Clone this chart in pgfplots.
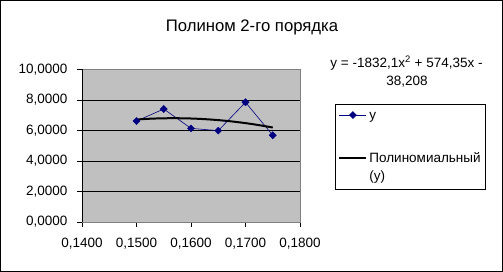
\documentclass[border=0pt]{standalone}
\usepackage{pgfplots}
\pgfplotsset{compat=1.18}
\usepackage{fontspec}
\setmainfont{Liberation Sans}
\definecolor{plotgray}{RGB}{192,192,192}
\definecolor{bordergray}{RGB}{128,128,128}
\definecolor{navyblue}{RGB}{0,0,128}
\pgfplotsset{
  legmark/.style={legend image code/.code={\draw[mark repeat=2,mark phase=2,##1] plot coordinates {(0pt,4.5pt) (13.5pt,4.5pt) (27pt,4.5pt)};}},
  legline/.style={legend image code/.code={\draw[##1] (0pt,22.5pt) -- (27pt,22.5pt);}},
}
\begin{document}
\begin{tikzpicture}
\fill[white] (0pt,0pt) rectangle (503pt,272pt);
\draw[black,line width=1pt] (0.5pt,0.5pt) rectangle (502.5pt,271.5pt);
\node[font=\fontsize{16.7}{20}\selectfont] at (252pt,245pt) {Полином 2-го порядка};
\node[font=\fontsize{13.5}{16}\selectfont] at (406.5pt,209pt) {y = -1832,1x\textsuperscript{2} + 574,35x -};
\node[font=\fontsize{13.5}{16}\selectfont] at (407pt,190pt) {38,208};
\begin{axis}[
  at={(82pt,50pt)}, anchor=south west,
  scale only axis, width=218pt, height=152.5pt,
  xmin=0.14, xmax=0.18, ymin=0, ymax=10,
  xtick={0.14,0.15,0.16,0.17,0.18},
  ytick={0,2,4,6,8,10},
  /pgf/number format/assume math mode=true,
  xticklabel style={/pgf/number format/.cd, fixed, fixed zerofill, precision=4, use comma},
  yticklabel style={/pgf/number format/.cd, fixed, fixed zerofill, precision=4, use comma},
  scaled x ticks=false, scaled y ticks=false,
  tick label style={font=\fontsize{13.5}{16}\selectfont},
  xtick pos=left, ytick pos=left,
  tick align=outside, major tick length=5pt,
  tick style={black, line width=0.8pt},
  axis background/.style={fill=plotgray},
  axis line style={bordergray, line width=0.8pt},
  ymajorgrids, grid style={black, line width=0.8pt},
  xticklabel shift=8pt, yticklabel shift=6pt,
  legend style={at={(1.1606,0.7738)}, anchor=north west, draw=black, line width=0.8pt,
    fill=white, font=\fontsize{13.5}{18}\selectfont, inner xsep=3pt, inner ysep=6pt,
    row sep=27pt, cells={anchor=base west, align=left}},
]
\addplot[navyblue, line width=0.6pt, mark=square*, mark size=2.5pt, mark options={rotate=45, fill=navyblue, line width=0.4pt}, legmark]
  coordinates {(0.150,6.62) (0.155,7.41) (0.160,6.14) (0.165,5.99) (0.170,7.85) (0.175,5.69)};
\addlegendentry{y}
\addplot[black, line width=2pt, smooth, no marks, legline]
  coordinates {(0.1500,6.7223) (0.1525,6.7726) (0.1550,6.8001) (0.1575,6.8046) (0.1600,6.7862)
   (0.1625,6.7450) (0.1650,6.6809) (0.1675,6.5937) (0.1700,6.4838) (0.1725,6.3510) (0.1750,6.1952)};
\addlegendentry{Полиномиальный\\(y)}
\draw[black, line width=0.8pt] (rel axis cs:0,0) -- (rel axis cs:0,1);
\draw[black, line width=0.8pt] (rel axis cs:0,0) -- (rel axis cs:1,0);
\end{axis}
\end{tikzpicture}
\end{document}
